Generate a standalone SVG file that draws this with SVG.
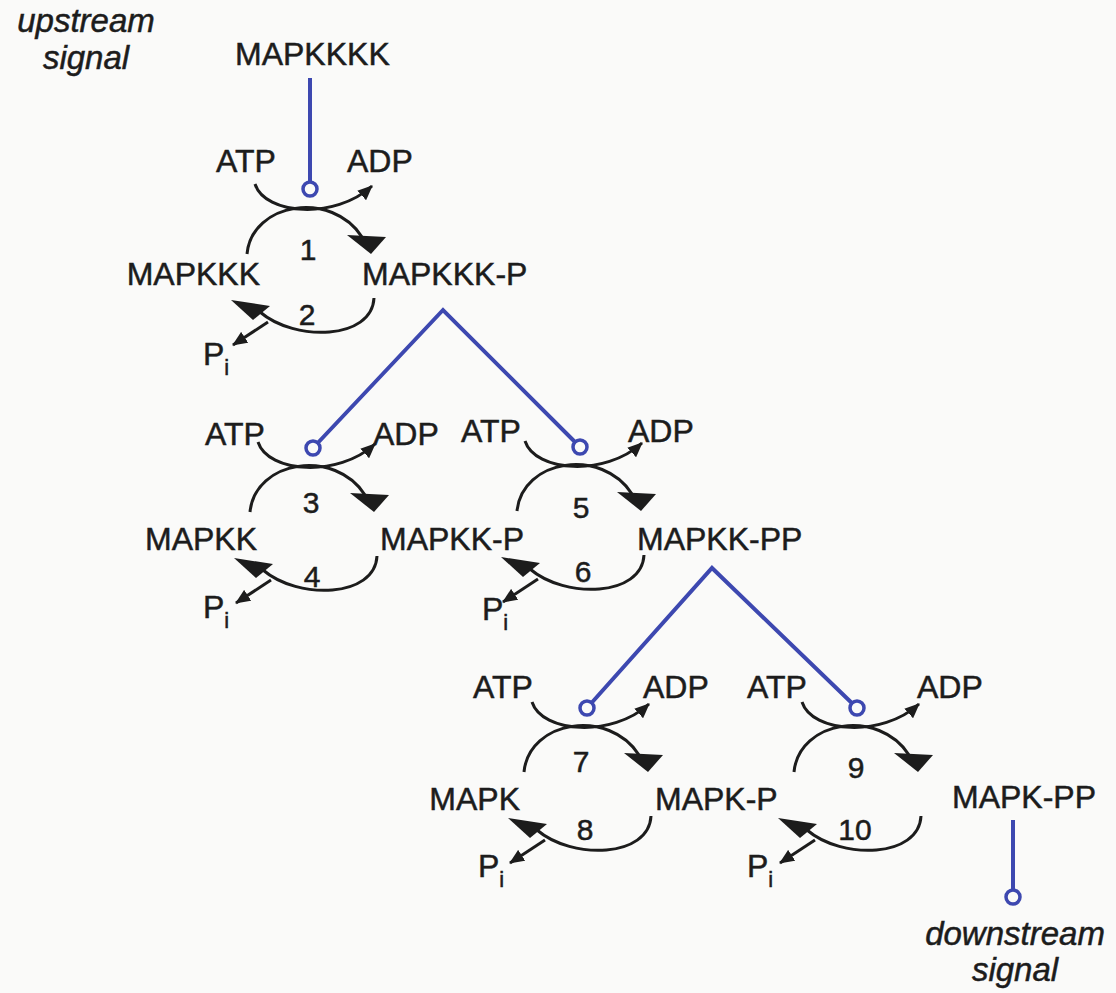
<svg xmlns="http://www.w3.org/2000/svg" xmlns:xlink="http://www.w3.org/1999/xlink" width="1116" height="993" viewBox="0 0 1116 993">
<style>
.t{font-family:"Liberation Sans",Arial,Helvetica,sans-serif;font-size:32px;fill:#1c1c1c;stroke:#1c1c1c;stroke-width:0.5}
.num{font-size:30px;text-anchor:middle}
.end{text-anchor:end}
.it{font-style:italic;font-size:33px;text-anchor:middle}
.sub{font-size:22px}
.rx{fill:none;stroke:#1c1c1c;stroke-width:3}
.sig{fill:none;stroke:#3d48b0;stroke-width:4;stroke-linejoin:miter}
.tip{fill:#fafaf9;stroke:#3d48b0;stroke-width:3.5}
.ah{fill:#1c1c1c}
</style>
<defs>
<marker id="sm" markerUnits="userSpaceOnUse" viewBox="0 0 15 13" markerWidth="15" markerHeight="13" refX="14" refY="6.5" orient="auto"><path class="ah" d="M0,0 L15,6.5 L0,13 z"/></marker>
<marker id="fwd" markerUnits="userSpaceOnUse" viewBox="-18 -6 46 26" markerWidth="46" markerHeight="26" refX="0" refY="0" orient="0"><path class="ah" d="M-15,-2 L24,0 L9,17 z"/></marker>
<marker id="rev" markerUnits="userSpaceOnUse" viewBox="-32 -14 46 24" markerWidth="46" markerHeight="24" refX="0" refY="0" orient="0"><path class="ah" d="M-29,-12 L10,-6 L-7,8 z"/></marker>
<g id="cyc">
<path class="rx" d="M-55,-6 C-45,25 25,30 62,-4" marker-end="url(#sm)"/>
<path class="rx" d="M-63,64 C-58,12 22,0 52,47" marker-end="url(#fwd)"/>
<path class="rx" d="M64,108 C62,150 -15,152 -50,122" marker-end="url(#rev)"/>
<path class="rx" d="M-42,132 L-77,155" marker-end="url(#sm)"/>
</g>
</defs>
<rect width="1116" height="993" fill="#fafaf9"/>
<g id="connectors">
<use xlink:href="#cyc" x="310" y="190"/>
<use xlink:href="#cyc" x="313" y="448"/>
<use xlink:href="#cyc" x="580" y="447"/>
<use xlink:href="#cyc" x="587" y="708"/>
<use xlink:href="#cyc" x="857" y="708"/>
<path class="sig" d="M310,78 L310,190"/>
<path class="sig" d="M313,448 L443,310 L580,447"/>
<path class="sig" d="M587,708 L712,568 L857,708"/>
<path class="sig" d="M1013,820 L1013,897"/>
<circle class="tip" cx="310" cy="189" r="7"/>
<circle class="tip" cx="313" cy="448" r="7"/>
<circle class="tip" cx="580" cy="447" r="7"/>
<circle class="tip" cx="587" cy="708" r="7"/>
<circle class="tip" cx="857" cy="708" r="7"/>
<circle class="tip" cx="1013" cy="897" r="7"/>
</g>
<g id="upstream"><text class="t it" x="86" y="32">upstream</text><text class="t it" x="86" y="69">signal</text></g>
<g id="downstream"><text class="t it" x="1015" y="945">downstream</text><text class="t it" x="1015" y="981">signal</text></g>
<g id="MAPKKKK"><text class="t" x="235" y="65">MAPKKKK</text></g>
<g id="MAPKKK"><text class="t end" x="260" y="285">MAPKKK</text></g>
<g id="MAPKKK-P"><text class="t" x="362" y="285">MAPKKK-P</text></g>
<g id="MAPKK"><text class="t end" x="257" y="550">MAPKK</text></g>
<g id="MAPKK-P"><text class="t" x="380" y="550">MAPKK-P</text></g>
<g id="MAPKK-PP"><text class="t" x="637" y="550">MAPKK-PP</text></g>
<g id="MAPK"><text class="t end" x="520" y="810">MAPK</text></g>
<g id="MAPK-P"><text class="t" x="655" y="810">MAPK-P</text></g>
<g id="MAPK-PP"><text class="t" x="952" y="808">MAPK-PP</text></g>
<g id="r1"><text class="t" x="216" y="172">ATP</text><text class="t" x="347" y="172">ADP</text><text class="t num" x="308" y="260">1</text></g>
<g id="r2"><text class="t num" x="307" y="325">2</text><text class="t" x="203" y="365">P<tspan class="sub" dy="10">i</tspan></text></g>
<g id="r3"><text class="t" x="205" y="445">ATP</text><text class="t" x="373" y="445">ADP</text><text class="t num" x="311" y="513">3</text></g>
<g id="r4"><text class="t num" x="312" y="587">4</text><text class="t" x="203" y="618">P<tspan class="sub" dy="10">i</tspan></text></g>
<g id="r5"><text class="t" x="461" y="442">ATP</text><text class="t" x="628" y="442">ADP</text><text class="t num" x="581" y="518">5</text></g>
<g id="r6"><text class="t num" x="583" y="582">6</text><text class="t" x="482" y="620">P<tspan class="sub" dy="10">i</tspan></text></g>
<g id="r7"><text class="t" x="473" y="698">ATP</text><text class="t" x="643" y="698">ADP</text><text class="t num" x="581" y="772">7</text></g>
<g id="r8"><text class="t num" x="585" y="840">8</text><text class="t" x="478" y="877">P<tspan class="sub" dy="10">i</tspan></text></g>
<g id="r9"><text class="t" x="747" y="698">ATP</text><text class="t" x="917" y="698">ADP</text><text class="t num" x="856" y="778">9</text></g>
<g id="r10"><text class="t num" x="855" y="840">10</text><text class="t" x="747" y="877">P<tspan class="sub" dy="10">i</tspan></text></g>
</svg>
